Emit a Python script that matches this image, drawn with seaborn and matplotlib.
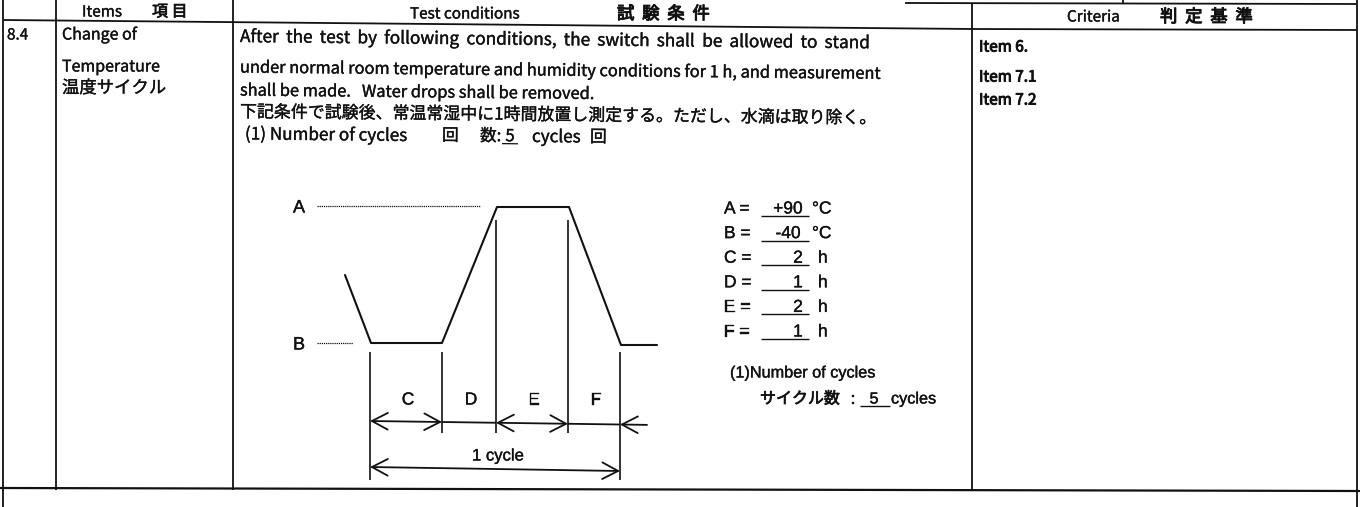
import matplotlib
matplotlib.use("Agg")
import matplotlib.pyplot as plt
import matplotlib.patheffects as pe
import seaborn as sns

# ---------------------------------------------------------------
# values (page units = pixels, y runs downward)
# ---------------------------------------------------------------

item_no = "8.4"
item_name = ["Change of", "Temperature", "温度サイクル"]

conditions = [
    "After the test by following conditions, the switch shall be allowed to stand",
    "under normal room temperature and humidity conditions for 1 h, and measurement",
    "shall be made.   Water drops shall be removed.",
    "下記条件で試験後、常温常湿中に1時間放置し測定する。ただし、水滴は取り除く。",
]
condition_y = [37, 68, 91, 112]

criteria = ["Item 6.", "Item 7.1", "Item 7.2"]
criteria_y = [47, 77, 100]

# test settings
setting_names = ["A", "B", "C", "D", "E", "F"]
setting_values = ["+90", "-40", "2", "1", "2", "1"]
setting_units = ["°C", "°C", "h", "h", "h", "h"]
n_cycles = "5"

# schematic temperature profile of one cycle
profile_x = [345, 371, 442, 497, 569, 621, 657]
profile_y = [275, 343, 343, 207, 207, 345, 345]
level_names = ["A", "B"]
level_y = [206, 343]
level_dots_end = [480, 353]
phase_names = ["C", "D", "E", "F"]
phase_edges = [370, 442, 496, 568, 620]

# table grid
col_x = [3, 56, 233, 972, 1357]

K = "#111111"
SANS = ["Liberation Sans", "Noto Sans CJK JP"]
JP = ["Noto Sans CJK JP", "DejaVu Sans"]
SLOPE = 0.01  # the scan is a little tilted
ANG = -0.57

sns.set_theme(style="white")
plt.rcParams["font.family"] = SANS

fig = plt.figure(figsize=(13.6, 5.07), dpi=100)
ax = fig.add_axes([0, 0, 1, 1])
ax.set_xlim(0, 1360)
ax.set_ylim(507, 0)
ax.axis("off")


def seg(xs, ys, lw=1.3, **kw):
    ax.plot(xs, ys, color=K, lw=lw, solid_capstyle="butt", **kw)


def put(x, y, s, size, family=JP, ha="left", rot=0.0, ink=0.25):
    # a thin stroke round the glyphs gives the darker look of the scan
    return ax.text(x, y, s, fontsize=size, family=family, ha=ha, va="center",
                   rotation=rot, rotation_mode="anchor", color=K,
                   path_effects=[pe.withStroke(linewidth=ink, foreground=K)])


def justify(x0, x1, y, s, size):
    # spread the words of a line so it runs from x0 to x1, like the sheet
    r = fig.canvas.get_renderer()
    words = s.split()
    widths = []
    for w in words:
        t = ax.text(0, 0, w, fontsize=size, family=JP)
        widths.append(t.get_window_extent(renderer=r).width)
        t.remove()
    gap = (x1 - x0 - sum(widths)) / (len(words) - 1)
    x = x0
    for w, wd in zip(words, widths):
        put(x, y + SLOPE * (x - x0), w, size, rot=ANG)
        x += wd + gap


# ---- table ----
seg([col_x[0]] * 2, [0, 507])
seg([col_x[-1]] * 2, [0, 507])
for x in col_x[1:3]:
    seg([x, x], [0, 490])
seg([col_x[3]] * 2, [4, 490])
seg([1123, 1123], [0, 4])
seg([905, 1357], [3, 4])
seg([col_x[0], col_x[3], col_x[4]], [20, 29, 30])
seg([0, 1360], [488, 491], lw=1.6)

# header
put(82, 12, "Items", 11)
put(152, 12, "項 目", 11.5, ink=0.5)
put(410, 14, "Test conditions", 11)
put(617, 14, "試  験  条  件", 12.5, ink=0.7)
put(1067, 17, "Criteria", 11)
put(1160, 17, "判  定  基  準", 12.5, ink=0.7)

# item column
put(7, 35, item_no, 11)
for s, y, fs in zip(item_name, [35, 67, 88], [11.5, 11.5, 12.5]):
    put(62, y, s, fs)

# test conditions text
justify(240, 870, condition_y[0], conditions[0], 12.4)
put(240, condition_y[1], conditions[1], 11.8, rot=ANG)
put(240, condition_y[2], conditions[2], 11.8, rot=ANG)
put(240, condition_y[3], conditions[3], 12.2, rot=ANG)

y0 = 134
def ty(x):
    return y0 + SLOPE * (x - 240)

put(245, ty(245), "(1) Number of cycles", 12.3, rot=ANG)
put(442, ty(442), "回", 12, rot=ANG)
put(480, ty(480), "数:", 12, rot=ANG)
put(510, ty(510), n_cycles, 12, ha="center", rot=ANG)
seg([502, 518], [ty(502) + 7, ty(518) + 7], lw=0.9)
put(532, ty(532), "cycles", 12.3, rot=ANG)
put(590, ty(590), "回", 12, rot=ANG)

# criteria
for s, y in zip(criteria, criteria_y):
    put(979, y, s, 11, ink=0.7)

# ---- diagram ----
sns.lineplot(x=profile_x, y=profile_y, sort=False, estimator=None,
             color=K, lw=1.5, ax=ax)

for name, y, xe in zip(level_names, level_y, level_dots_end):
    put(293, y + 2, name, 13, family=SANS)
    seg([317, xe], [y, y], lw=0.9, ls=(0, (1, 0.7)))

# extension lines
for x in [phase_edges[0], phase_edges[4]]:
    seg([x, x], [352, 480], lw=1.2)
seg([phase_edges[1]] * 2, [352, 433], lw=1.2)
for x in phase_edges[2:4]:
    seg([x, x], [220, 433], lw=1.2)


def dim_y(x):
    return 421 + (x - 370) * 0.014


head = "<->,head_length=0.95,head_width=0.5"
for i in (0, 2):
    xa, xb = phase_edges[i], phase_edges[i + 1]
    ax.annotate("", xy=(xb, dim_y(xb)), xytext=(xa, dim_y(xa)),
                arrowprops=dict(arrowstyle=head, color=K, lw=1.3,
                                shrinkA=0, shrinkB=0))
seg([phase_edges[1], phase_edges[2]], [dim_y(phase_edges[1]), dim_y(phase_edges[2])])
seg([phase_edges[3], phase_edges[4]], [dim_y(phase_edges[3]), dim_y(phase_edges[4])])
ax.annotate("", xy=(phase_edges[4], dim_y(phase_edges[4])), xytext=(647, dim_y(647)),
            arrowprops=dict(arrowstyle="->,head_length=0.95,head_width=0.5",
                            color=K, lw=1.3, shrinkA=0, shrinkB=0))

for i, name in enumerate(phase_names):
    xc = (phase_edges[i] + phase_edges[i + 1]) / 2
    put(xc + 2, 400, name, 12.5, family=SANS)
    ax.texts[-1].set_ha("center")

ax.annotate("", xy=(phase_edges[4], 471), xytext=(phase_edges[0], 467),
            arrowprops=dict(arrowstyle=head, color=K, lw=1.3,
                            shrinkA=0, shrinkB=0))
put(498, 456, "1 cycle", 12, family=SANS, ha="center")

# ---- settings block ----
for i, (n, v, u) in enumerate(zip(setting_names, setting_values, setting_units)):
    y = 209 + 24.6 * i
    put(724, y, n + " =", 12.5, family=SANS)
    seg([761, 809], [y + 7, y + 7], lw=1.0)
    if u == "°C":
        put(788, y, v, 12.5, family=SANS, ha="center")
        put(812, y, u, 12.5, family=SANS)
    else:
        put(798, y, v, 12.5, family=SANS, ha="center")
        put(818, y, u, 12.5, family=SANS)

put(730, 373, "(1)Number of cycles", 11.7, family=SANS)
put(760, 399, "サイクル数", 11.5, family=JP, ink=0.5)
put(851, 399, ":", 11.5, family=SANS)
seg([860, 890], [406, 406], lw=1.0)
put(874, 399, n_cycles, 11.5, family=SANS, ha="center")
put(891, 399, "cycles", 11.7, family=SANS)

fig.savefig("out.png", dpi=100)
